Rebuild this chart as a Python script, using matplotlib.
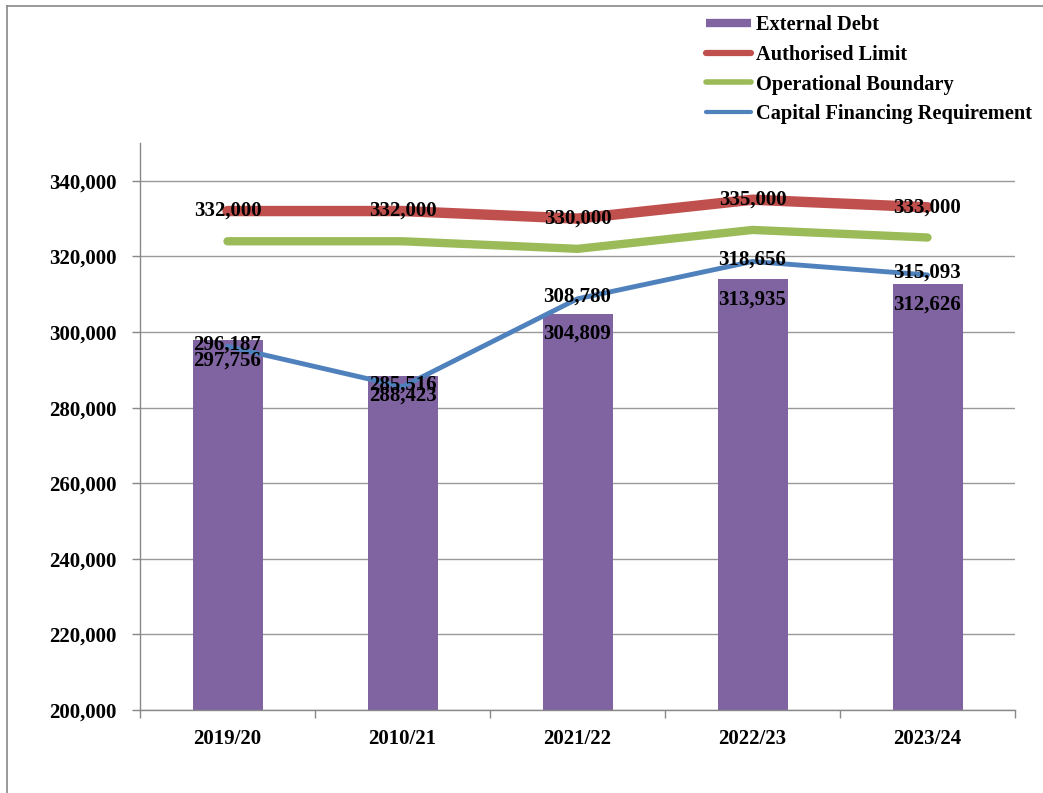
import matplotlib
matplotlib.use("Agg")
import matplotlib.pyplot as plt
from matplotlib.lines import Line2D
import numpy as np

categories = ["2019/20", "2010/21", "2021/22", "2022/23", "2023/24"]
external_debt = [297756, 288423, 304809, 313935, 312626]
authorised_limit = [332000, 332000, 330000, 335000, 333000]
operational_boundary = [324000, 324000, 322000, 327000, 325000]
capital_financing = [296187, 285516, 308780, 318656, 315093]
yticks = [200000, 220000, 240000, 260000, 280000, 300000, 320000, 340000]

purple = "#8064A2"
red = "#C0504D"
green = "#9BBB59"
blue = "#4F81BD"
serif = ["Liberation Serif", "DejaVu Serif"]

plt.rcParams["font.family"] = serif
plt.rcParams["font.weight"] = "bold"

fig = plt.figure(figsize=(10.43, 7.93), dpi=100)
W, H = 1043, 793
ax = fig.add_axes([140 / W, 1 - 710 / H, 875 / W, (710 - 143) / H])

x = np.arange(len(categories))
ax.bar(x, external_debt, width=0.4, color=purple, zorder=2)
ax.plot(x, authorised_limit, color=red, lw=7.5, solid_capstyle="round", zorder=3)
ax.plot(x, operational_boundary, color=green, lw=6, solid_capstyle="round", zorder=3)
ax.plot(x, capital_financing, color=blue, lw=3.5, solid_capstyle="round", zorder=3)

fs = 15
for xi, v in zip(x, authorised_limit):
    ax.text(xi, v, f"{v:,}", ha="center", va="center", fontsize=fs, fontweight="bold", zorder=5)
for xi, v in zip(x, capital_financing):
    ax.annotate(f"{v:,}", (xi, v), xytext=(0, 2), textcoords="offset pixels",
                ha="center", va="center", fontsize=fs, fontweight="bold", zorder=5)
for xi, v in zip(x, external_debt):
    ax.annotate(f"{v:,}", (xi, v), xytext=(0, -20), textcoords="offset pixels",
                ha="center", va="center", fontsize=fs, fontweight="bold", zorder=5)

ax.set_xlim(-0.5, len(categories) - 0.5)
ax.set_ylim(200000, 350000)
ax.set_yticks(yticks)
ax.set_yticklabels([f"{t:,}" for t in yticks], fontsize=fs, fontweight="bold")
ax.set_xticks(x)
ax.set_xticklabels(categories, fontsize=fs, fontweight="bold")
ax.set_xticks(np.arange(len(categories) + 1) - 0.5, minor=True)
ax.tick_params(axis="x", which="major", length=0, pad=14)
ax.tick_params(axis="x", which="minor", length=6, color="#888888", width=1)
ax.tick_params(axis="y", length=6, color="#888888", width=1, pad=11)
ax.yaxis.grid(True, color="#999999", lw=1, zorder=0)
ax.set_axisbelow(True)
for s in ["top", "right"]:
    ax.spines[s].set_visible(False)
for s in ["left", "bottom"]:
    ax.spines[s].set_color("#888888")
    ax.spines[s].set_linewidth(1)

handles = [
    Line2D([], [], color=purple, lw=6, solid_capstyle="butt"),
    Line2D([], [], color=red, lw=4.5, solid_capstyle="round"),
    Line2D([], [], color=green, lw=4, solid_capstyle="round"),
    Line2D([], [], color=blue, lw=3, solid_capstyle="round"),
]
labels = ["External Debt", "Authorised Limit", "Operational Boundary", "Capital Financing Requirement"]
fig.legend(handles, labels, loc="upper left", bbox_to_anchor=(706 / W, 1 - 15 / H),
           frameon=False, handlelength=2.2, handletextpad=0.25,
           labelspacing=0.48, borderaxespad=0, borderpad=0,
           prop={"family": serif, "weight": "bold", "size": 14.7})

# outer chart border (left and top)
fig.add_artist(Line2D([7 / W, 7 / W], [0, 1 - 6 / H], color="#888888", lw=1.2, transform=fig.transFigure))
fig.add_artist(Line2D([7 / W, 1], [1 - 6 / H, 1 - 6 / H], color="#888888", lw=1.2, transform=fig.transFigure))

fig.savefig("out.png", dpi=100)
